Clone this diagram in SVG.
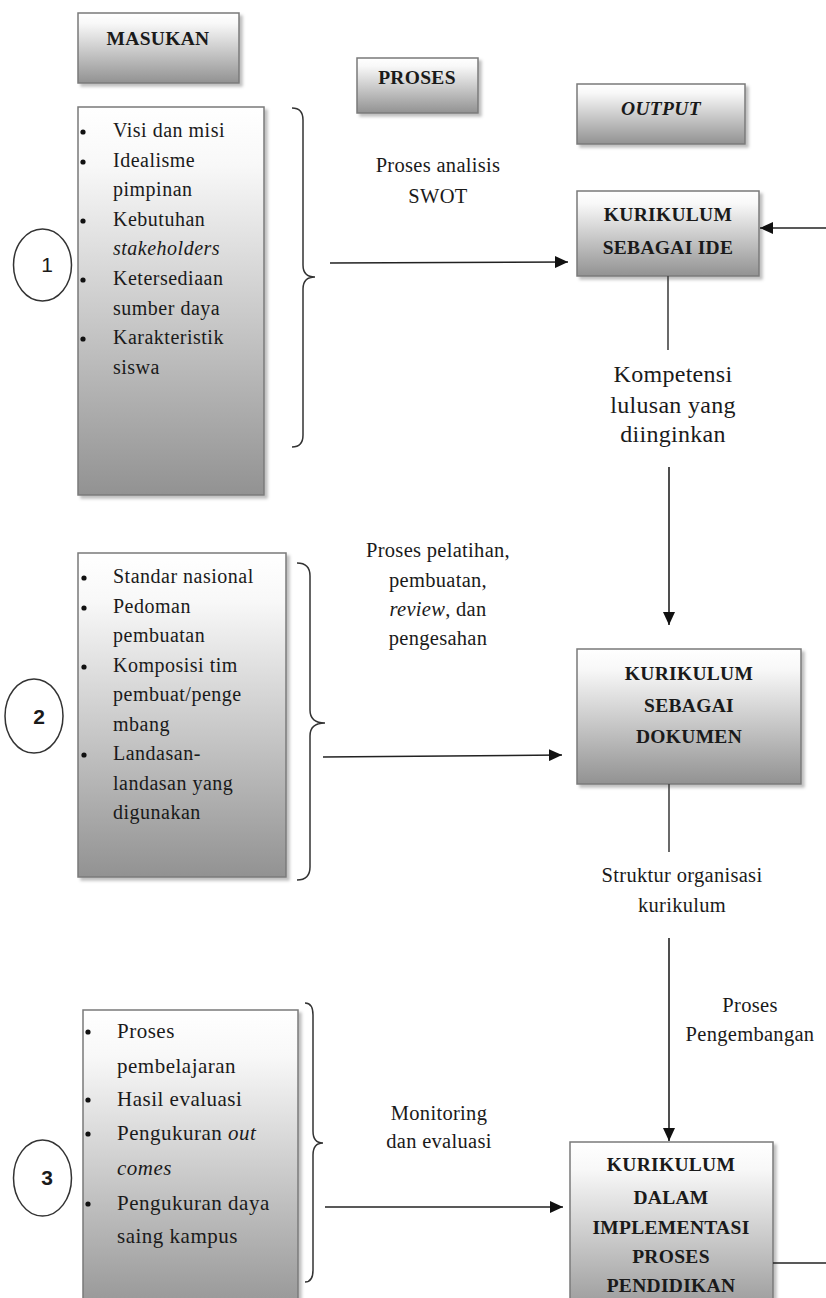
<svg xmlns="http://www.w3.org/2000/svg" width="826" height="1298" viewBox="0 0 826 1298">
<style>
text{font-family:"Liberation Serif","Times New Roman",serif;fill:#1a1a1a}
.b{font-size:20px;letter-spacing:0.5px}
.b3{font-size:21px;letter-spacing:0.5px}
.l{font-size:20.5px;letter-spacing:0.3px;text-anchor:middle}
.lg{font-size:24px;letter-spacing:0.3px;text-anchor:middle}
.h{font-size:19.5px;font-weight:bold;letter-spacing:0.3px;text-anchor:middle}
.n{font-family:"Liberation Sans",Arial,sans-serif;font-size:21px;text-anchor:middle}
.box{fill:url(#grad);stroke:#7a7a7a;stroke-width:1.5;filter:url(#sh)}
.circ{fill:#fff;stroke:#333;stroke-width:1.5}
.ln{stroke:#222;stroke-width:1.6;fill:none}
.vl{stroke:#444;stroke-width:1.6;fill:none}
.br{stroke:#333;stroke-width:1.5;fill:none}
.dot{fill:#111}
</style>
<defs>
<linearGradient id="grad" x1="0" y1="0" x2="0" y2="1">
<stop offset="0" stop-color="#ffffff"/>
<stop offset="0.15" stop-color="#f8f8f8"/>
<stop offset="1" stop-color="#929292"/>
</linearGradient>
<filter id="sh" x="-10%" y="-10%" width="130%" height="130%">
<feDropShadow dx="3" dy="3" stdDeviation="1.5" flood-color="#000" flood-opacity="0.25"/>
</filter>
<marker id="ah" markerUnits="userSpaceOnUse" markerWidth="13" markerHeight="12" refX="13" refY="6" orient="auto">
<path d="M0,0 L13,6 L0,12 z" fill="#111"/>
</marker>
</defs>

<g id="hdr-masukan">
<rect class="box" x="78" y="13" width="161" height="70"/>
<text class="h" x="158" y="45">MASUKAN</text>
</g>
<g id="hdr-proses">
<rect class="box" x="357" y="58" width="121" height="55"/>
<text class="h" x="417" y="84">PROSES</text>
</g>
<g id="hdr-output">
<rect class="box" x="577" y="84" width="168" height="60"/>
<text class="h" x="661" y="115" font-style="italic">OUTPUT</text>
</g>

<g id="input1">
<rect class="box" x="78" y="107" width="186" height="388"/>
<circle class="dot" cx="83" cy="132" r="2.6"/>
<circle class="dot" cx="83" cy="162" r="2.6"/>
<circle class="dot" cx="83" cy="221" r="2.6"/>
<circle class="dot" cx="83" cy="280" r="2.6"/>
<circle class="dot" cx="83" cy="339" r="2.6"/>
<text class="b" x="113" y="137">Visi dan misi</text>
<text class="b" x="113" y="167">Idealisme</text>
<text class="b" x="113" y="196">pimpinan</text>
<text class="b" x="113" y="226">Kebutuhan</text>
<text class="b" x="113" y="255" font-style="italic">stakeholders</text>
<text class="b" x="113" y="285">Ketersediaan</text>
<text class="b" x="113" y="315">sumber daya</text>
<text class="b" x="113" y="344">Karakteristik</text>
<text class="b" x="113" y="374">siswa</text>
</g>
<g id="num1">
<ellipse class="circ" cx="42.5" cy="265" rx="29" ry="36"/>
<text class="n" x="47" y="272">1</text>
</g>

<g id="input2">
<rect class="box" x="78" y="553" width="208" height="324"/>
<circle class="dot" cx="84" cy="578" r="2.6"/>
<circle class="dot" cx="84" cy="608" r="2.6"/>
<circle class="dot" cx="84" cy="667" r="2.6"/>
<circle class="dot" cx="84" cy="755" r="2.6"/>
<text class="b" x="113" y="583">Standar nasional</text>
<text class="b" x="113" y="613">Pedoman</text>
<text class="b" x="113" y="642">pembuatan</text>
<text class="b" x="113" y="672">Komposisi tim</text>
<text class="b" x="113" y="701">pembuat/penge</text>
<text class="b" x="113" y="731">mbang</text>
<text class="b" x="113" y="760">Landasan-</text>
<text class="b" x="113" y="790">landasan yang</text>
<text class="b" x="113" y="819">digunakan</text>
</g>
<g id="num2">
<ellipse class="circ" cx="34" cy="716" rx="29" ry="37"/>
<text class="n" x="39" y="724" font-weight="bold">2</text>
</g>

<g id="input3">
<rect class="box" x="83" y="1010" width="215" height="310"/>
<circle class="dot" cx="88" cy="1032" r="2.6"/>
<circle class="dot" cx="88" cy="1100" r="2.6"/>
<circle class="dot" cx="88" cy="1134" r="2.6"/>
<circle class="dot" cx="88" cy="1204" r="2.6"/>
<text class="b3" x="117" y="1038">Proses</text>
<text class="b3" x="117" y="1073">pembelajaran</text>
<text class="b3" x="117" y="1106">Hasil evaluasi</text>
<text class="b3" x="117" y="1140">Pengukuran <tspan font-style="italic">out</tspan></text>
<text class="b3" x="117" y="1175" font-style="italic">comes</text>
<text class="b3" x="117" y="1210">Pengukuran daya</text>
<text class="b3" x="117" y="1243">saing kampus</text>
</g>
<g id="num3">
<ellipse class="circ" cx="42.5" cy="1178" rx="29" ry="38"/>
<text class="n" x="47" y="1185" font-weight="bold">3</text>
</g>

<g id="out1">
<rect class="box" x="577" y="191" width="182" height="85"/>
<text class="h" x="668" y="221">KURIKULUM</text>
<text class="h" x="668" y="254">SEBAGAI IDE</text>
</g>
<g id="out2">
<rect class="box" x="577" y="649" width="224" height="135"/>
<text class="h" x="689" y="680">KURIKULUM</text>
<text class="h" x="689" y="712">SEBAGAI</text>
<text class="h" x="689" y="743">DOKUMEN</text>
</g>
<g id="out3">
<rect class="box" x="570" y="1142" width="203" height="180"/>
<text class="h" x="671" y="1171">KURIKULUM</text>
<text class="h" x="671" y="1204">DALAM</text>
<text class="h" x="671" y="1234">IMPLEMENTASI</text>
<text class="h" x="671" y="1263">PROSES</text>
<text class="h" x="671" y="1292">PENDIDIKAN</text>
</g>

<g id="labels">
<text class="l" x="438" y="172">Proses analisis</text>
<text class="l" x="438" y="203">SWOT</text>
<text class="lg" x="673" y="382">Kompetensi</text>
<text class="lg" x="673" y="413">lulusan yang</text>
<text class="lg" x="673" y="442">diinginkan</text>
<text class="l" x="438" y="557">Proses pelatihan,</text>
<text class="l" x="438" y="587">pembuatan,</text>
<text class="l" x="438" y="616"><tspan font-style="italic">review</tspan>, dan</text>
<text class="l" x="438" y="645">pengesahan</text>
<text class="l" x="682" y="882">Struktur organisasi</text>
<text class="l" x="682" y="912">kurikulum</text>
<text class="l" x="750" y="1012">Proses</text>
<text class="l" x="750" y="1041">Pengembangan</text>
<text class="l" x="439" y="1120">Monitoring</text>
<text class="l" x="439" y="1148">dan evaluasi</text>
</g>

<g id="connectors">
<path class="br" d="M292,108 Q303,108 303,120 V265 Q303,277 315,277 Q303,277 303,289 V435 Q303,447 292,447"/>
<path class="br" d="M297,563 Q310,563 310,576 V710 Q310,723 325,723 Q310,723 310,736 V867 Q310,880 297,880"/>
<path class="br" d="M305,1003 Q313,1003 313,1015 V1131 Q313,1143 323,1143 Q313,1143 313,1155 V1270 Q313,1282 305,1282"/>
<line class="ln" x1="330" y1="263" x2="568" y2="262" marker-end="url(#ah)"/>
<line class="ln" x1="826" y1="228" x2="760" y2="228" marker-end="url(#ah)"/>
<line class="vl" x1="668" y1="276" x2="668" y2="350"/>
<line class="ln" x1="669" y1="467" x2="669" y2="625" marker-end="url(#ah)"/>
<line class="vl" x1="669" y1="784" x2="669" y2="852"/>
<line class="ln" x1="323" y1="757" x2="562" y2="755" marker-end="url(#ah)"/>
<line class="ln" x1="669" y1="938" x2="669" y2="1141" marker-end="url(#ah)"/>
<line class="ln" x1="325" y1="1207" x2="563" y2="1207" marker-end="url(#ah)"/>
<line class="ln" x1="773" y1="1263" x2="826" y2="1263"/>
</g>
</svg>
